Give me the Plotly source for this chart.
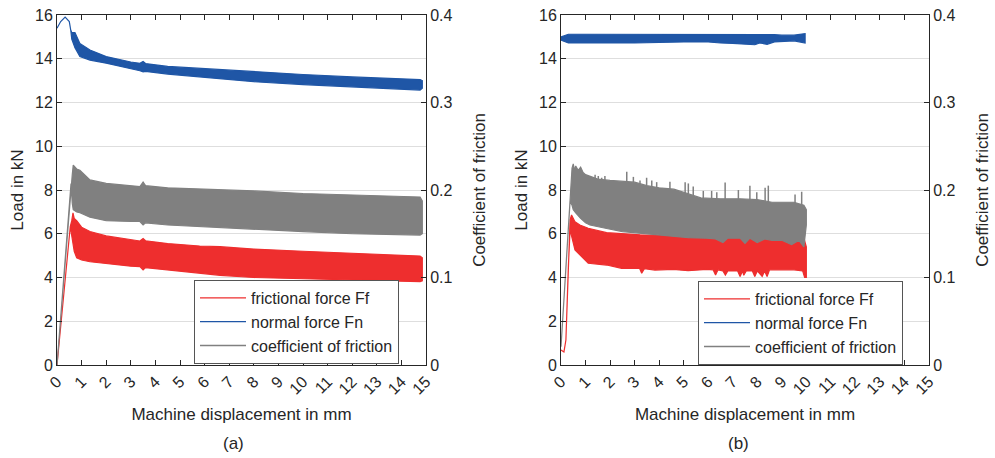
import plotly.graph_objects as go

# ---------------- data ----------------
# Panel (a): envelopes of the oscillating signals
a_ff_x = [0, 0.54, 0.6, 0.65, 0.7, 0.8, 1.0, 1.34, 2.0, 3.0, 3.37, 3.5, 3.6, 4.5, 5.8, 6.63, 8, 10, 12, 14.76, 14.85]
a_ff_hi = [0, 6.33, 6.6, 6.95, 6.7, 6.6, 6.3, 6.1, 5.9, 5.72, 5.67, 5.78, 5.68, 5.55, 5.44, 5.41, 5.3, 5.2, 5.1, 4.98, 4.9]
a_ff_lo = [0, 6.33, 5.9, 5.5, 5.2, 4.9, 4.8, 4.72, 4.65, 4.52, 4.5, 4.35, 4.45, 4.35, 4.2, 4.1, 4.0, 3.95, 3.88, 3.81, 3.85]

a_fn_x = [0, 0.15, 0.33, 0.5, 0.56, 0.6, 0.73, 0.93, 1.34, 2.0, 3.0, 3.37, 3.5, 3.6, 4.5, 5.8, 8, 10, 12, 14.76, 14.85]
a_fn_hi = [15.4, 15.7, 15.9, 15.7, 15.3, 15.2, 15.2, 14.7, 14.4, 14.1, 13.85, 13.79, 13.87, 13.78, 13.65, 13.56, 13.4, 13.28, 13.17, 13.05, 13.0]
a_fn_lo = [15.4, 15.7, 15.9, 15.7, 15.3, 14.9, 14.5, 14.1, 13.94, 13.8, 13.55, 13.45, 13.4, 13.42, 13.3, 13.15, 12.95, 12.82, 12.7, 12.57, 12.65]

a_mu_x = [0, 0.57, 0.62, 0.66, 0.8, 0.93, 1.34, 2.0, 3.0, 3.37, 3.5, 3.6, 4.5, 5.8, 6.63, 8, 10, 12, 14.76, 14.85]
a_mu_hi = [0, 0.2075, 0.2175, 0.2285, 0.224, 0.2225, 0.2115, 0.2075, 0.205, 0.204, 0.209, 0.205, 0.2025, 0.201, 0.2008, 0.199, 0.196, 0.1945, 0.192, 0.1875]
a_mu_lo = [0, 0.2075, 0.185, 0.1775, 0.175, 0.174, 0.169, 0.165, 0.164, 0.164, 0.16, 0.1625, 0.16, 0.158, 0.1565, 0.155, 0.1525, 0.15, 0.1485, 0.15]

# Panel (b)
b_ff_hi_x = [0, 0.12, 0.2, 0.3, 0.37, 0.43, 0.57, 0.77, 1.11, 1.86, 2.47, 3.22, 4.57, 5.94, 7.0, 8.5, 9.5, 9.9, 10.0]
b_ff_hi = [0.69, 0.6, 1.14, 4.5, 6.63, 6.86, 6.55, 6.4, 6.25, 6.05, 6.0, 5.95, 5.9, 5.88, 5.85, 5.85, 5.85, 5.8, 5.4]
b_ff_lo_x = [0, 0.12, 0.2, 0.3, 0.37, 0.43, 0.57, 0.77, 1.11, 1.86, 2.47, 3.2, 3.29, 3.4, 3.83, 4.57, 5.18, 5.94,
             6.2, 6.3, 6.4, 6.6, 6.7, 6.8, 7.2, 7.3, 7.4, 7.45, 7.55, 7.8, 7.9, 8.0, 8.2, 8.3, 8.4, 8.5,
             9.0, 9.5, 9.85, 9.93, 10.0]
b_ff_lo = [0.69, 0.6, 1.14, 4.5, 6.2, 5.9, 5.26, 5.03, 4.65, 4.57, 4.42, 4.42, 4.2, 4.4, 4.34, 4.37, 4.31, 4.37,
           4.35, 4.11, 4.35, 4.3, 4.11, 4.3, 4.3, 4.04, 4.3, 4.1, 4.3, 4.3, 4.04, 4.3, 4.05, 4.3, 4.04, 4.35,
           4.35, 4.35, 4.3, 4.0, 4.0]

b_fn_x = [0, 0.3, 1, 2, 3, 4, 5, 6, 6.5, 7, 7.5, 7.9, 8.1, 8.4, 8.7, 9, 9.5, 9.95]
b_fn_hi = [15.0, 15.12, 15.12, 15.12, 15.12, 15.12, 15.12, 15.12, 15.12, 15.1, 15.12, 15.1, 15.1, 15.1, 15.1, 15.08, 15.08, 15.15]
b_fn_lo = [14.85, 14.72, 14.7, 14.72, 14.72, 14.74, 14.77, 14.77, 14.72, 14.7, 14.68, 14.64, 14.72, 14.66, 14.77, 14.8, 14.82, 14.72]

b_mu_hi_x = [0, 0.37, 0.45, 0.5, 0.55, 0.6, 0.7, 0.8, 0.9, 1.0, 1.5, 2.0, 2.5, 3.0, 3.5, 4.0, 4.6, 5.2, 5.7, 6.5, 7.3, 8.0, 8.6, 9.5, 9.9, 10.0]
b_mu_hi = [0.021, 0.187, 0.225, 0.2298, 0.2225, 0.2275, 0.2225, 0.226, 0.22, 0.2175, 0.2125, 0.211, 0.21, 0.209, 0.205, 0.2025, 0.201, 0.196, 0.191, 0.19, 0.19, 0.189, 0.186, 0.186, 0.1825, 0.1775]
b_mu_lo_x = [0, 0.37, 0.45, 0.5, 0.6, 0.8, 1.0, 1.18, 1.86, 2.5, 3.22, 4.0, 4.57, 5.2, 5.94, 6.3, 6.6, 6.8, 7.3, 7.5, 7.7, 8.0, 8.3, 8.6, 9.0, 9.4, 9.7, 9.9, 10.0]
b_mu_lo = [0.021, 0.187, 0.1825, 0.1775, 0.174, 0.1675, 0.1625, 0.16, 0.156, 0.1525, 0.1505, 0.149, 0.147, 0.1455, 0.145, 0.144, 0.14, 0.145, 0.145, 0.139, 0.145, 0.14, 0.144, 0.1425, 0.1425, 0.1375, 0.1425, 0.135, 0.16]
# isolated spikes on top of the friction-coefficient band in (b)
b_mu_spike_x = [1.18, 1.39, 1.52, 1.66, 1.79, 2.68, 2.95, 3.22, 3.49, 3.70, 3.90, 4.44, 5.06, 5.19, 5.39, 5.80, 6.14, 6.35, 6.69, 7.23, 7.70, 7.98, 8.32, 8.45, 9.54, 9.81]
b_mu_spike_top = [0.216, 0.2175, 0.216, 0.214, 0.216, 0.221, 0.215, 0.211, 0.214, 0.211, 0.209, 0.2095, 0.209, 0.2075, 0.204, 0.199, 0.199, 0.1975, 0.2085, 0.2, 0.205, 0.1975, 0.2025, 0.205, 0.195, 0.198]
b_mu_spike_base = [0.205, 0.205, 0.205, 0.205, 0.205, 0.2, 0.2, 0.2, 0.2, 0.2, 0.2, 0.198, 0.195, 0.195, 0.193, 0.188, 0.186, 0.186, 0.186, 0.186, 0.186, 0.186, 0.185, 0.185, 0.183, 0.182]

x_ticks = list(range(0, 16))
names = ["frictional force Ff", "normal force Fn", "coefficient of friction"]
RED, BLUE, GRAY = "#ee2e2e", "#1f56a6", "#808080"
AX = "#262626"
FONT = "Liberation Sans, Arial, sans-serif"

fig = go.Figure()


def band(xhi, yhi, xlo, ylo, color, xa, ya):
    xs = list(xhi) + list(xlo)[::-1]
    ys = list(yhi) + list(ylo)[::-1]
    fig.add_trace(go.Scatter(x=xs, y=ys, mode="lines", fill="toself", fillcolor=color,
                             line=dict(color=color, width=1.2), xaxis=xa, yaxis=ya,
                             showlegend=False, hoverinfo="skip"))


def legend_entries(leg, xa, ya):
    for nm, col in zip(names, [RED, BLUE, GRAY]):
        fig.add_trace(go.Scatter(x=[None], y=[None], mode="lines", name=nm,
                                 line=dict(color=col, width=1.3), xaxis=xa, yaxis=ya,
                                 legend=leg, showlegend=True))


# panel (a)
band(a_ff_x, a_ff_hi, a_ff_x, a_ff_lo, RED, "x", "y")
band(a_fn_x, a_fn_hi, a_fn_x, a_fn_lo, BLUE, "x", "y")
band(a_mu_x, a_mu_hi, a_mu_x, a_mu_lo, GRAY, "x", "y2")
legend_entries("legend", "x", "y")

# panel (b)
band(b_ff_hi_x, b_ff_hi, b_ff_lo_x, b_ff_lo, RED, "x2", "y3")
band(b_fn_x, b_fn_hi, b_fn_x, b_fn_lo, BLUE, "x2", "y3")
band(b_mu_hi_x, b_mu_hi, b_mu_lo_x, b_mu_lo, GRAY, "x2", "y4")
sx, sy = [], []
for xv, top, base in zip(b_mu_spike_x, b_mu_spike_top, b_mu_spike_base):
    sx += [xv, xv, None]
    sy += [base, top, None]
fig.add_trace(go.Scatter(x=sx, y=sy, mode="lines", line=dict(color=GRAY, width=1.5),
                         xaxis="x2", yaxis="y4", showlegend=False, hoverinfo="skip"))
legend_entries("legend2", "x2", "y3")

W, H = 995, 458
ydom = [1 - 365 / H, 1 - 15 / H]
tickfont = dict(family=FONT, size=16, color=AX)
titlefont = dict(family=FONT, size=17, color=AX)


def xaxis(dom):
    return dict(domain=dom, range=[0, 15], tickvals=x_ticks, ticktext=[str(v) for v in x_ticks],
                tickangle=-45, ticks="inside", ticklen=5, tickcolor=AX, showline=True,
                linecolor=AX, linewidth=1, mirror="ticks", showgrid=False, zeroline=False,
                automargin=False, tickfont=tickfont,
                title=dict(text="Machine displacement in mm", font=titlefont, standoff=11))


def yleft(xa):
    return dict(domain=ydom, anchor=xa, range=[0, 16], dtick=2, ticks="inside", ticklen=5,
                tickcolor=AX, showline=True, linecolor=AX, linewidth=1, showgrid=True,
                gridcolor="#dedede", gridwidth=1, zeroline=False, tickfont=tickfont,
                automargin=False, title=dict(text="Load in kN", font=titlefont, standoff=7))


def yright(xa, over):
    return dict(domain=ydom, anchor=xa, overlaying=over, side="right", range=[0, 0.4], dtick=0.1,
                ticks="inside", ticklen=5, tickcolor=AX, showline=True, linecolor=AX, linewidth=1,
                showgrid=False, zeroline=False, tickfont=tickfont, automargin=False,
                title=dict(text="Coefficient of friction", font=titlefont, standoff=21))


leg_common = dict(font=dict(family=FONT, size=16, color=AX), bgcolor="white",
                  bordercolor="#555555", borderwidth=1, xanchor="left", yanchor="top",
                  tracegroupgap=0, itemwidth=46)

fig.update_layout(
    width=W, height=H, margin=dict(l=0, r=0, t=0, b=0, autoexpand=False),
    paper_bgcolor="white", plot_bgcolor="white",
    font=dict(family=FONT, color=AX),
    xaxis=xaxis([57 / W, 426 / W]),
    yaxis=yleft("x"),
    yaxis2=yright("x", "y"),
    xaxis2=xaxis([561 / W, 929 / W]),
    yaxis3=yleft("x2"),
    yaxis4=yright("x2", "y3"),
    legend=dict(x=194 / W, y=1 - 280 / H, **leg_common),
    legend2=dict(x=698 / W, y=1 - 281 / H, **leg_common),
    annotations=[
        dict(text="(a)", x=233 / W, y=1 - 443 / H, xref="paper", yref="paper", showarrow=False,
             font=dict(family=FONT, size=17, color=AX), xanchor="center", yanchor="middle"),
        dict(text="(b)", x=738 / W, y=1 - 443 / H, xref="paper", yref="paper", showarrow=False,
             font=dict(family=FONT, size=17, color=AX), xanchor="center", yanchor="middle"),
    ],
    showlegend=True,
)

fig.write_html("out.html")
